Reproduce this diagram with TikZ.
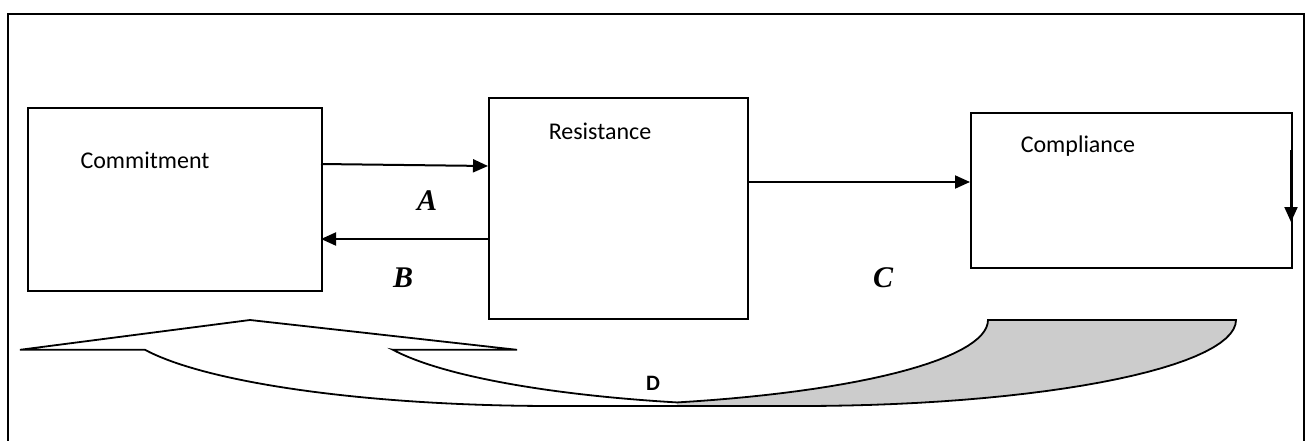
\documentclass[tikz,border=0pt]{standalone}
\usepackage{fontspec}
\setmainfont{Carlito}
\newfontfamily\serifbi{Liberation Serif}
\usetikzlibrary{arrows.meta}

\newcommand{\pxscl}{0.5}
\newcommand{\bx}{\node[draw, line width=1pt, inner sep=0pt, anchor=north west]}
\newcommand{\tx}{\node[font=\fontsize{12}{14}\selectfont, inner sep=0pt]}
\newcommand{\lt}{\node[font=\serifbi\fontsize{15}{17}\selectfont\bfseries\itshape, inner sep=0pt]}

\begin{document}
\begin{tikzpicture}[x=\pxscl pt, y=-\pxscl pt,
    >={Triangle[length=7.5pt, width=6.5pt]},
    link/.style={->, line width=1pt},
    rib/.style={line width=0.9pt, line join=miter}]
    \useasboundingbox (0,0) rectangle (1306,440);

    % frame
    \draw[line width=1pt] (8,470) -- (8,14) -- (1304,14) -- (1304,470);

    % boxes
    \bx[minimum width={294*\pxscl pt}, minimum height={183*\pxscl pt}] (commit) at (27,107) {};
    \bx[minimum width={259*\pxscl pt}, minimum height={221*\pxscl pt}] (resist) at (488,97) {};
    \bx[minimum width={321*\pxscl pt}, minimum height={155*\pxscl pt}] (compl) at (970,112) {};

    \tx (committxt) at (145,160) {Commitment};
    \tx (resisttxt) at (600,131) {Resistance};
    \tx (compltxt) at (1078,146) {Compliance};

    \lt (la) at (427,201) {A};
    \lt (lb) at (403,278) {B};
    \lt (lc) at (883,278) {C};

    % arrow ends
    \coordinate (a0) at (321,164);
    \coordinate (a1) at (488,166);
    \coordinate (b0) at (488,239);
    \coordinate (b1) at (321,239);
    \coordinate (c0) at (747,182);
    \coordinate (c1) at (970,182);
    \coordinate (d0) at (1291,150);
    \coordinate (d1) at (1291,222);

    \draw[link]
        (a0) -- (a1);
    \draw[link]
        (b0) -- (b1);
    \draw[link]
        (c0) -- (c1);
    \draw[link]
        (d0) -- (d1);

    % curved arrow
    \coordinate (tip) at (20,349.8);
    \coordinate (apex) at (250,320);
    \coordinate (hr) at (517,349.8);
    \coordinate (hin) at (393,349.8);
    \coordinate (tailout) at (1236,320);
    \coordinate (botl) at (553,406);
    \coordinate (botx) at (677,406);

    \fill[black!20] plot[domain=73.4:0, samples=30] ({553+435*cos(\x)},{320+86*sin(\x)})
        -- (tailout)
        -- plot[domain=0:90, samples=30] ({801+435*cos(\x)},{320+86*sin(\x)})
        -- (botx) -- cycle;

    \draw[rib] (tip) -- (apex) -- (hr) -- (hin)
        -- plot[domain=159.73:106.6, samples=40] ({801+435*cos(\x)},{320+86*sin(\x)})
        -- plot[domain=73.4:0, samples=30] ({553+435*cos(\x)},{320+86*sin(\x)})
        -- (tailout)
        -- plot[domain=0:90, samples=30] ({801+435*cos(\x)},{320+86*sin(\x)})
        -- (botl)
        -- plot[domain=90:159.73, samples=40] ({553+435*cos(\x)},{320+86*sin(\x)})
        -- cycle;

    \node[font=\bfseries\fontsize{11}{13}\selectfont, inner sep=0pt] (ld) at (653,383) {D};
\end{tikzpicture}
\end{document}
